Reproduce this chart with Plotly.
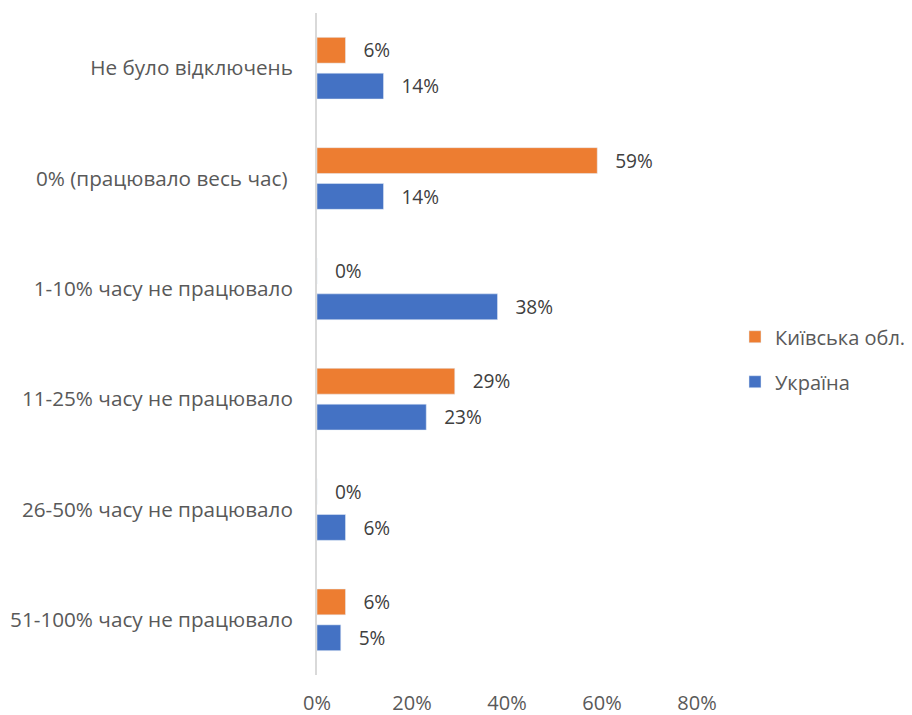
import plotly.graph_objects as go

categories = ["Не було відключень", "0% (працювало весь час) ", "1-10% часу не працювало",
              "11-25% часу не працювало", "26-50% часу не працювало", "51-100% часу не працювало"]
kyiv = [6, 59, 0, 29, 0, 6]
ukraine = [14, 14, 38, 23, 6, 5]
tick_vals = [0, 20, 40, 60, 80]
tick_text = ["0%", "20%", "40%", "60%", "80%"]

FONT = "Open Sans"
GREY = "#595959"
SIZE = 20

fig = go.Figure()
fig.add_trace(go.Bar(
    y=categories, x=kyiv, name="Київська обл.", orientation="h",
    marker=dict(color="#ED7D31"), legendgroup="k",
    text=[f"{v}%" for v in kyiv], texttemplate="   %{text}",
    textposition="outside", cliponaxis=False,
    textfont=dict(family=FONT, size=SIZE, color="#404040"),
))
fig.add_trace(go.Bar(
    y=categories, x=ukraine, name="Україна", orientation="h",
    marker=dict(color="#4472C4"), legendgroup="u",
    text=[f"{v}%" for v in ukraine], texttemplate="   %{text}",
    textposition="outside", cliponaxis=False,
    textfont=dict(family=FONT, size=SIZE, color="#404040"),
))

fig.update_layout(
    width=912, height=715,
    margin=dict(l=309, r=223, t=5, b=48, autoexpand=False),
    paper_bgcolor="white", plot_bgcolor="white",
    barmode="group", bargap=0.35, bargroupgap=0.28,
    font=dict(family=FONT, size=SIZE, color=GREY),
    showlegend=True,
    legend=dict(x=1.10, xanchor="left", y=0.477, yanchor="middle",
                traceorder="grouped", tracegroupgap=16,
                font=dict(family=FONT, size=SIZE, color=GREY)),
    xaxis=dict(range=[0, 80], tickvals=tick_vals, ticktext=tick_text,
               showgrid=False, zeroline=False, showline=False, automargin=False,
               ticklabelstandoff=14, tickfont=dict(family=FONT, size=SIZE, color=GREY)),
    yaxis=dict(categoryorder="array", categoryarray=categories, autorange="reversed",
               showline=True, linecolor="#d9d9d9", linewidth=2, showgrid=False,
               ticks="", ticklabelstandoff=18, automargin=False,
               tickfont=dict(family=FONT, size=20.7, color=GREY)),
)

fig.write_html("out.html")
